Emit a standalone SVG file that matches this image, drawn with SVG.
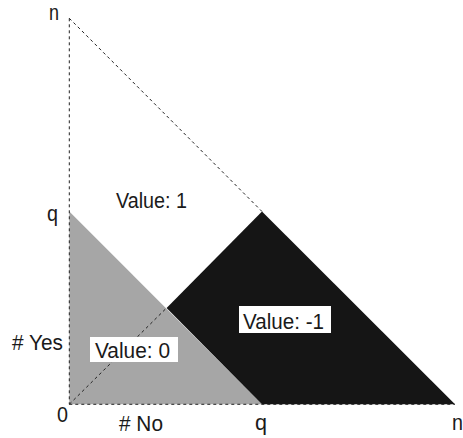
<svg xmlns="http://www.w3.org/2000/svg" width="463" height="438" viewBox="0 0 463 438">
<style>
text{font-family:"Liberation Sans",Arial,sans-serif;font-size:22px;fill:#1a1a1a}
.dash{stroke:#222;stroke-width:1;stroke-dasharray:3,3;fill:none}
.box{fill:#fff}
</style>
<rect width="463" height="438" fill="#fff"/>
<g id="region-0"><polygon points="69.3,211.5 262,404.3 69.3,404.3" fill="#a6a6a6"/></g>
<g id="region-minus1"><polygon points="166.6,307.9 262,211.5 455,404.3 262,404.3" fill="#151515"/></g>
<g id="connectors">
<line class="dash" x1="69.3" y1="18.3" x2="69.3" y2="404.3"/>
<line class="dash" x1="69.3" y1="404.3" x2="455" y2="404.3"/>
<line class="dash" x1="69.3" y1="18.3" x2="262" y2="211.5"/>
<line class="dash" x1="69.3" y1="404.3" x2="166.6" y2="307.9"/>
</g>
<g id="axis-labels">
<text x="49" y="20" textLength="10" lengthAdjust="spacingAndGlyphs">n</text>
<text x="47" y="221" textLength="11" lengthAdjust="spacingAndGlyphs">q</text>
<text x="57" y="422" textLength="11" lengthAdjust="spacingAndGlyphs">0</text>
<text x="12" y="350" textLength="51" lengthAdjust="spacingAndGlyphs"># Yes</text>
<text x="119" y="431" textLength="44" lengthAdjust="spacingAndGlyphs"># No</text>
<text x="255" y="430" textLength="12" lengthAdjust="spacingAndGlyphs">q</text>
<text x="452" y="430" textLength="11" lengthAdjust="spacingAndGlyphs">n</text>
</g>
<g id="label-value-1"><text x="116" y="208" textLength="71" lengthAdjust="spacingAndGlyphs">Value: 1</text></g>
<g id="label-value-0"><rect class="box" x="90" y="337" width="88" height="25"/><text x="95" y="358" textLength="75" lengthAdjust="spacingAndGlyphs">Value: 0</text></g>
<g id="label-value-m1"><rect class="box" x="239" y="306" width="92" height="27"/><text x="243" y="329" textLength="81" lengthAdjust="spacingAndGlyphs">Value: -1</text></g>
</svg>
